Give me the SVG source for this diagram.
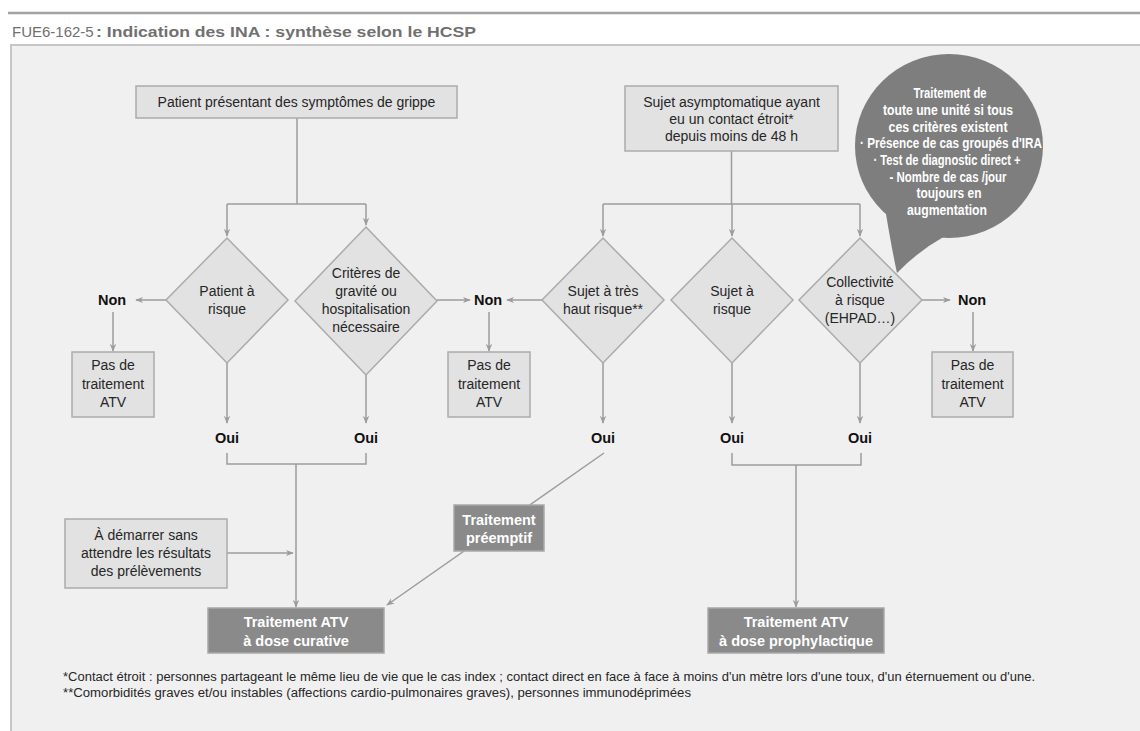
<svg xmlns="http://www.w3.org/2000/svg" width="1140" height="731" viewBox="0 0 1140 731">
<style>
.t{font-family:"Liberation Sans",Arial,sans-serif;font-size:14px;fill:#262626;text-anchor:middle}
.b{font-family:"Liberation Sans",Arial,sans-serif;font-size:14.5px;font-weight:bold;fill:#111;text-anchor:middle}
.w{font-family:"Liberation Sans",Arial,sans-serif;font-size:14.5px;font-weight:bold;fill:#fff;text-anchor:middle}
.bw{font-family:"Liberation Sans",Arial,sans-serif;font-size:14.5px;font-weight:bold;fill:#fff;text-anchor:middle}
.fn{font-family:"Liberation Sans",Arial,sans-serif;font-size:12.5px;fill:#262626}
.box{fill:#e2e2e2;stroke:#ababab;stroke-width:1.5}
.dk{fill:#8a8a8a;stroke:#a8a8a8;stroke-width:1.5}
.c{fill:none;stroke:#9c9c9c;stroke-width:1.5}
.a{marker-end:url(#ah)}
</style>
<defs>
<marker id="ah" viewBox="0 0 10 10" refX="9" refY="5" markerWidth="8" markerHeight="8" markerUnits="userSpaceOnUse" orient="auto">
<path d="M0,1 L10,5 L0,9 L3,5 z" fill="#9c9c9c"/>
</marker>
</defs>
<rect x="0" y="0" width="1140" height="731" fill="#ffffff"/>
<line x1="8" y1="13" x2="1140" y2="13" stroke="#a3a3a3" stroke-width="2.5"/>
<rect x="11" y="45" width="1140" height="700" fill="#f0f0f0" stroke="#c6c6c6" stroke-width="2"/>
<g id="title">
<text x="12" y="37" style="font-family:'Liberation Sans',Arial,sans-serif;font-size:15px;fill:#707070">FUE6-162-5</text>
<text x="96" y="37" style="font-family:'Liberation Sans',Arial,sans-serif;font-size:15.5px;font-weight:bold;fill:#707070" textLength="380" lengthAdjust="spacingAndGlyphs"> : Indication des INA : synthèse selon le HCSP</text>
</g>
<g id="connectors">
<path class="c" d="M297,118 V204 M227,204 H366 M731.5,151 V204 M603,204 H860"/>
<path class="c a" d="M227,204 V236"/>
<path class="c a" d="M366,204 V225"/>
<path class="c a" d="M603,204 V236"/>
<path class="c a" d="M732,204 V236"/>
<path class="c a" d="M860,204 V236"/>
<path class="c a" d="M166,300 H136"/>
<path class="c a" d="M437,300 H470"/>
<path class="c a" d="M542,300 H507"/>
<path class="c a" d="M922,300 H950"/>
<path class="c a" d="M113,312 V351"/>
<path class="c a" d="M489,312 V351"/>
<path class="c a" d="M973,312 V351"/>
<path class="c a" d="M227,363 V423"/>
<path class="c a" d="M366,375 V423"/>
<path class="c a" d="M603,363 V423"/>
<path class="c a" d="M732,363 V423"/>
<path class="c a" d="M860,363 V423"/>
<path class="c" d="M227,453 V464 H366 V453"/>
<path class="c a" d="M296,464 V607"/>
<path class="c a" d="M227,553 H293"/>
<path class="c" d="M732,453 V465 H861 V453"/>
<path class="c a" d="M796,465 V607"/>
<path class="c a" d="M604,453 L387,605"/>
</g>
<g id="n-patient">
<rect class="box" x="136" y="86" width="321" height="32"/>
<text class="t" x="296.5" y="107">Patient présentant des symptômes de grippe</text>
</g>
<g id="n-sujet">
<rect class="box" x="625" y="86" width="213" height="65"/>
<text class="t" x="731.5" y="107">Sujet asymptomatique ayant</text>
<text class="t" x="731.5" y="124">eu un contact étroit*</text>
<text class="t" x="731.5" y="141">depuis moins de 48 h</text>
</g>
<g id="n-bulle">
<ellipse cx="949" cy="146" rx="94" ry="92" fill="#7e7e7e"/>
<path d="M886,214 Q892,250 897,273 Q917,252 945,236 z" fill="#7e7e7e"/>
<text class="bw" x="950" y="98" textLength="73" lengthAdjust="spacingAndGlyphs">Traitement de</text>
<text class="bw" x="948" y="114.5" textLength="130" lengthAdjust="spacingAndGlyphs">toute une unité si tous</text>
<text class="bw" x="948" y="131.5" textLength="119" lengthAdjust="spacingAndGlyphs">ces critères existent</text>
<text class="bw" x="951" y="148" textLength="182" lengthAdjust="spacingAndGlyphs">· Présence de cas groupés d'IRA</text>
<text class="bw" x="947" y="164.5" textLength="147" lengthAdjust="spacingAndGlyphs">· Test de diagnostic direct +</text>
<text class="bw" x="948" y="181.5" textLength="117" lengthAdjust="spacingAndGlyphs">- Nombre de cas /jour</text>
<text class="bw" x="949" y="198" textLength="65" lengthAdjust="spacingAndGlyphs">toujours en</text>
<text class="bw" x="947" y="215" textLength="80" lengthAdjust="spacingAndGlyphs">augmentation</text>
</g>
<g id="d-patient-risque">
<polygon class="box" points="227,238 288,300 227,363 166,300"/>
<text class="t" x="227" y="296">Patient à</text>
<text class="t" x="227" y="314">risque</text>
</g>
<g id="d-criteres">
<polygon class="box" points="366,227 437,301 366,375 295,301"/>
<text class="t" x="366" y="278">Critères de</text>
<text class="t" x="366" y="296">gravité ou</text>
<text class="t" x="366" y="314">hospitalisation</text>
<text class="t" x="366" y="332">nécessaire</text>
</g>
<g id="d-tres-haut">
<polygon class="box" points="603,238 664,300 603,363 542,300"/>
<text class="t" x="603" y="296">Sujet à très</text>
<text class="t" x="603" y="314">haut risque**</text>
</g>
<g id="d-sujet-risque">
<polygon class="box" points="732,238 793,300 732,363 671,300"/>
<text class="t" x="732" y="296">Sujet à</text>
<text class="t" x="732" y="314">risque</text>
</g>
<g id="d-collectivite">
<polygon class="box" points="860,238 922,300 860,363 799,300"/>
<text class="t" x="860" y="287">Collectivité</text>
<text class="t" x="860" y="305">à risque</text>
<text class="t" x="860" y="323">(EHPAD…)</text>
</g>
<g id="l-non1"><text class="b" x="112" y="305">Non</text></g>
<g id="l-non2"><text class="b" x="488" y="305">Non</text></g>
<g id="l-non3"><text class="b" x="972" y="305">Non</text></g>
<g id="n-pas1">
<rect class="box" x="72" y="352" width="82" height="65"/>
<text class="t" x="113" y="370">Pas de</text>
<text class="t" x="113" y="389">traitement</text>
<text class="t" x="113" y="407">ATV</text>
</g>
<g id="n-pas2">
<rect class="box" x="448" y="352" width="82" height="65"/>
<text class="t" x="489" y="370">Pas de</text>
<text class="t" x="489" y="389">traitement</text>
<text class="t" x="489" y="407">ATV</text>
</g>
<g id="n-pas3">
<rect class="box" x="932" y="352" width="81" height="65"/>
<text class="t" x="972.5" y="370">Pas de</text>
<text class="t" x="972.5" y="389">traitement</text>
<text class="t" x="972.5" y="407">ATV</text>
</g>
<g id="l-oui">
<text class="b" x="227" y="443">Oui</text>
<text class="b" x="366" y="443">Oui</text>
<text class="b" x="603" y="443">Oui</text>
<text class="b" x="732" y="443">Oui</text>
<text class="b" x="860" y="443">Oui</text>
</g>
<g id="n-demarrer">
<rect class="box" x="65" y="519" width="162" height="69"/>
<text class="t" x="146" y="540">À démarrer sans</text>
<text class="t" x="146" y="558">attendre les résultats</text>
<text class="t" x="146" y="576">des prélèvements</text>
</g>
<g id="n-preemptif">
<rect class="dk" x="454" y="505" width="90" height="46"/>
<text class="w" x="499" y="525">Traitement</text>
<text class="w" x="499" y="543">préemptif</text>
</g>
<g id="n-curative">
<rect class="dk" x="208" y="608" width="176" height="45"/>
<text class="w" x="296" y="627">Traitement ATV</text>
<text class="w" x="296" y="646">à dose curative</text>
</g>
<g id="n-prophylactique">
<rect class="dk" x="708" y="608" width="176" height="45"/>
<text class="w" x="796" y="627">Traitement ATV</text>
<text class="w" x="796" y="646">à dose prophylactique</text>
</g>
<g id="footnotes">
<text class="fn" x="63" y="681" textLength="972" lengthAdjust="spacingAndGlyphs">*Contact étroit : personnes partageant le même lieu de vie que le cas index ; contact direct en face à face à moins d'un mètre lors d'une toux, d'un éternuement ou d'une.</text>
<text class="fn" x="63" y="697" textLength="628" lengthAdjust="spacingAndGlyphs">**Comorbidités graves et/ou instables (affections cardio-pulmonaires graves), personnes immunodéprimées</text>
</g>
</svg>
